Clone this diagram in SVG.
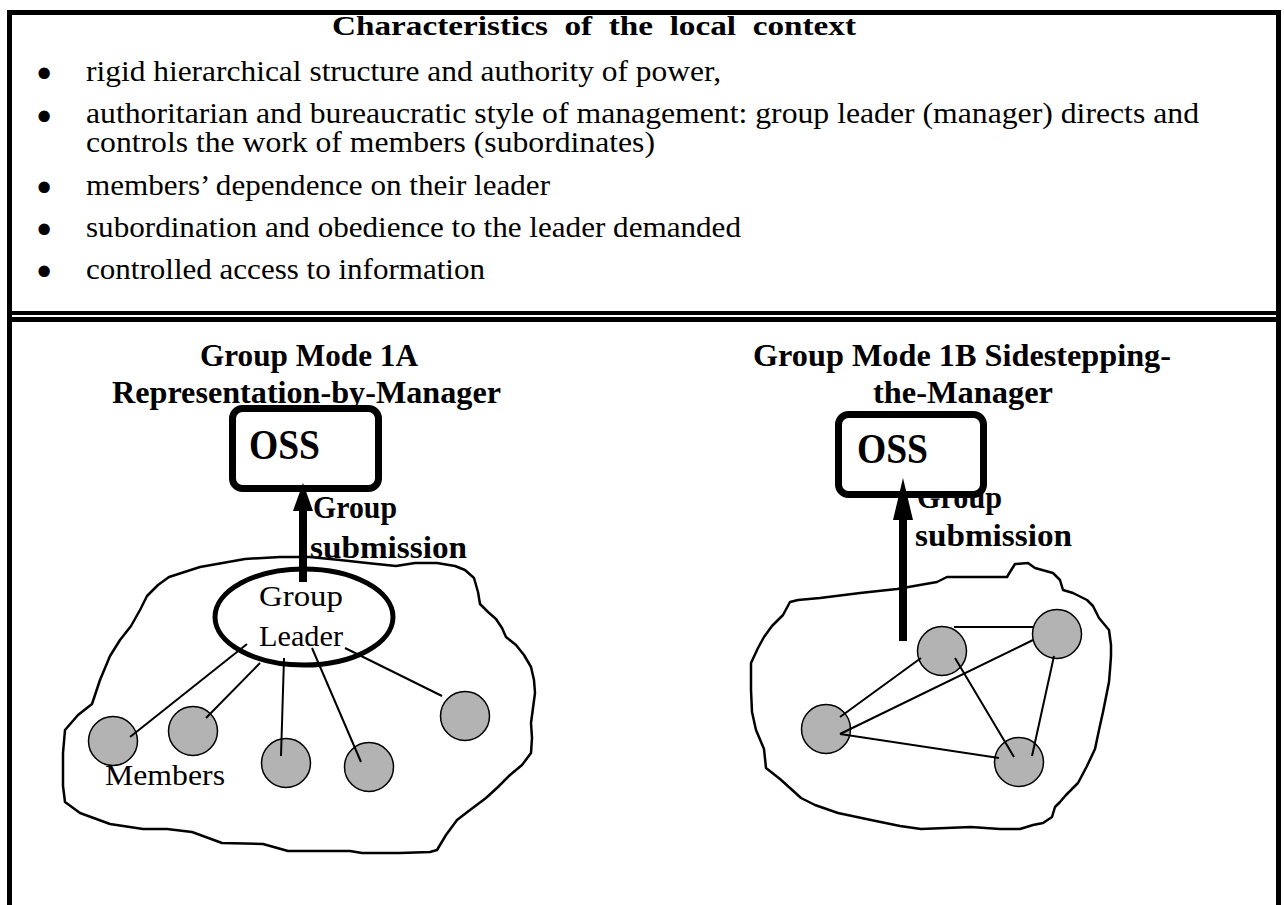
<svg xmlns="http://www.w3.org/2000/svg" width="1284" height="905" viewBox="0 0 1284 905">
<style>
.t{font-family:"Liberation Serif","Times New Roman",Times,serif;fill:#000}
.b{font-weight:bold}
.bul{font-size:35px;dominant-baseline:central;stroke:#000;stroke-width:3;stroke-linejoin:round}
.frame{stroke:#000;fill:none}
.blob{fill:none;stroke:#000;stroke-width:2.5;stroke-linejoin:round}
.mem{fill:#b3b3b3;stroke:#000;stroke-width:1.5}
.con{stroke:#000;stroke-width:2;fill:none}
.oss{fill:#fff;stroke:#000;stroke-width:7}
.sub{stroke:#000;stroke-width:8}
.lead{fill:none;stroke:#000;stroke-width:5}
</style>
<defs>
<marker id="ah1" markerUnits="userSpaceOnUse" markerWidth="28" markerHeight="20" refX="0" refY="10" orient="auto"><path d="M0,0 L28,10 L0,20 z" fill="#000"/></marker>
<marker id="ah2" markerUnits="userSpaceOnUse" markerWidth="42" markerHeight="20" refX="0" refY="10" orient="auto"><path d="M0,0 L42,10 L0,20 z" fill="#000"/></marker>
</defs>
<rect width="1284" height="905" fill="#fff"/>
<g id="frame" class="frame">
<line x1="7" y1="12.5" x2="1281" y2="12.5" stroke-width="5"/>
<line x1="9.5" y1="10" x2="9.5" y2="905" stroke-width="5"/>
<line x1="1278.5" y1="10" x2="1278.5" y2="905" stroke-width="5"/>
<line x1="7" y1="313" x2="1281" y2="313" stroke-width="4"/>
<line x1="7" y1="319.5" x2="1281" y2="319.5" stroke-width="5"/>
</g>
<g id="context">
<text class="t b" x="332" y="35" font-size="28" word-spacing="7" textLength="524" lengthAdjust="spacingAndGlyphs">Characteristics of the local context</text>
<g class="t" font-size="29">
<text class="bul" x="38" y="74">•</text>
<text x="86" y="81" textLength="635" lengthAdjust="spacingAndGlyphs">rigid hierarchical structure and authority of power,</text>
<text class="bul" x="38" y="117">•</text>
<text x="86" y="123" textLength="1113" lengthAdjust="spacingAndGlyphs">authoritarian and bureaucratic style of management: group leader (manager) directs and</text>
<text x="86" y="152" textLength="569" lengthAdjust="spacingAndGlyphs">controls the work of members (subordinates)</text>
<text class="bul" x="38" y="188">•</text>
<text x="86" y="195" textLength="464" lengthAdjust="spacingAndGlyphs">members’ dependence on their leader</text>
<text class="bul" x="38" y="230">•</text>
<text x="86" y="237" textLength="655" lengthAdjust="spacingAndGlyphs">subordination and obedience to the leader demanded</text>
<text class="bul" x="38" y="272">•</text>
<text x="86" y="279" textLength="399" lengthAdjust="spacingAndGlyphs">controlled access to information</text>
</g>
</g>
<g id="mode1A-title" class="t b" font-size="31">
<text x="200" y="366" textLength="218" lengthAdjust="spacingAndGlyphs">Group Mode 1A</text>
<text x="112" y="403" textLength="389" lengthAdjust="spacingAndGlyphs">Representation-by-Manager</text>
</g>
<g id="mode1B-title" class="t b" font-size="31">
<text x="753" y="366" textLength="418" lengthAdjust="spacingAndGlyphs">Group Mode 1B Sidestepping-</text>
<text x="873" y="403" textLength="180" lengthAdjust="spacingAndGlyphs">the-Manager</text>
</g>
<g id="blob1A">
<path class="blob" d="M169,577 L200,567 L245,559 L280,557 L310,557 L340,560 L367,563 L396,566 L415,563 L437,563 L455,566 L465,570 L474,578 L478,592 L480,604 L488,612 L496,619 L502,628 L506,637 L516,645 L524,655 L531,667 L534,680 L535,693 L533,708 L531,723 L532,738 L531,753 L522,765 L510,775 L498,787 L486,798 L470,810 L457,820 L446,835 L437,850 L430,852 L400,853 L362,853 L350,851 L288,851 L263,844 L222,843 L192,832 L167,829 L143,829 L110,824 L80,813 L65,802 L63,786 L63,770 L63,753 L65,730 L78,715 L92,704 L100,680 L110,656 L120,640 L131,626 L140,610 L147,596 L158,585 Z"/>
</g>
<g id="blob1B">
<path class="blob" d="M790,602 L798,600 L820,598 L860,593 L897,589 L937,582 L947,577 L1007,577 L1010,572 L1015,564 L1028,563 L1035,568 L1053,573 L1060,580 L1063,590 L1073,593 L1087,600 L1093,606 L1099,618 L1109,630 L1111,645 L1111,656 L1110,670 L1109,682 L1106,697 L1103,712 L1099,730 L1095,749 L1087,766 L1078,783 L1066,795 L1060,802 L1055,807 L1052,817 L1043,823 L1033,825 L1020,829 L1000,829 L971,827 L921,829 L900,826 L871,820 L838,813 L815,805 L801,798 L790,788 L780,779 L766,768 L764,749 L756,730 L752,712 L751,690 L751,663 L758,648 L764,637 L772,626 L783,615 Z"/>
</g>
<g id="label1A" class="t b" font-size="31">
<text x="313" y="518" textLength="84" lengthAdjust="spacingAndGlyphs">Group</text>
<text x="310" y="558" textLength="157" lengthAdjust="spacingAndGlyphs">submission</text>
</g>
<g id="label1B" class="t b" font-size="31">
<text x="917" y="508" textLength="85" lengthAdjust="spacingAndGlyphs">Group</text>
<text x="915" y="546" textLength="157" lengthAdjust="spacingAndGlyphs">submission</text>
</g>
<g id="oss1A">
<rect class="oss" x="232.5" y="408.5" width="146" height="80" rx="10"/>
<text class="t b" x="249" y="459" font-size="42" textLength="71" lengthAdjust="spacingAndGlyphs">OSS</text>
</g>
<g id="oss1B">
<rect class="oss" x="838.5" y="414.5" width="145" height="80" rx="10"/>
<text class="t b" x="857" y="463" font-size="42" textLength="71" lengthAdjust="spacingAndGlyphs">OSS</text>
</g>
<g id="leader">
<ellipse class="lead" cx="304" cy="617" rx="89" ry="48"/>
<text class="t" x="259" y="606" font-size="30" textLength="84" lengthAdjust="spacingAndGlyphs">Group</text>
<text class="t" x="259" y="646" font-size="30" textLength="84" lengthAdjust="spacingAndGlyphs">Leader</text>
</g>
<g id="m1"><circle class="mem" cx="113" cy="741" r="24.5"/></g>
<g id="m2"><circle class="mem" cx="193" cy="731" r="24.5"/></g>
<g id="m3"><circle class="mem" cx="286" cy="763" r="24.5"/></g>
<g id="m4"><circle class="mem" cx="369" cy="767" r="24.5"/></g>
<g id="m5"><circle class="mem" cx="465" cy="716" r="24.5"/></g>
<g id="members-label"><text class="t" x="105" y="785" font-size="30" textLength="120" lengthAdjust="spacingAndGlyphs">Members</text></g>
<g id="n1"><circle class="mem" cx="942" cy="651" r="24.5"/></g>
<g id="n2"><circle class="mem" cx="1057" cy="634" r="24.5"/></g>
<g id="n3"><circle class="mem" cx="826" cy="729" r="24.5"/></g>
<g id="n4"><circle class="mem" cx="1019" cy="762" r="24.5"/></g>
<g id="connectors">
<line class="con" x1="247" y1="644" x2="130" y2="737"/>
<line class="con" x1="260" y1="663" x2="206" y2="718"/>
<line class="con" x1="284" y1="658" x2="281" y2="756"/>
<line class="con" x1="312" y1="648" x2="361" y2="762"/>
<line class="con" x1="345" y1="648" x2="442" y2="696"/>
<line class="con" x1="954" y1="627" x2="1033" y2="627"/>
<line class="con" x1="840" y1="717" x2="921" y2="658"/>
<line class="con" x1="840" y1="734" x2="1033" y2="640"/>
<line class="con" x1="840" y1="734" x2="999" y2="758"/>
<line class="con" x1="955" y1="658" x2="1014" y2="757"/>
<line class="con" x1="1054" y1="656" x2="1032" y2="756"/>
<line class="sub" x1="303" y1="582" x2="303" y2="511" marker-end="url(#ah1)"/>
<line class="sub" x1="903" y1="641" x2="903" y2="520" marker-end="url(#ah2)"/>
</g>
</svg>
